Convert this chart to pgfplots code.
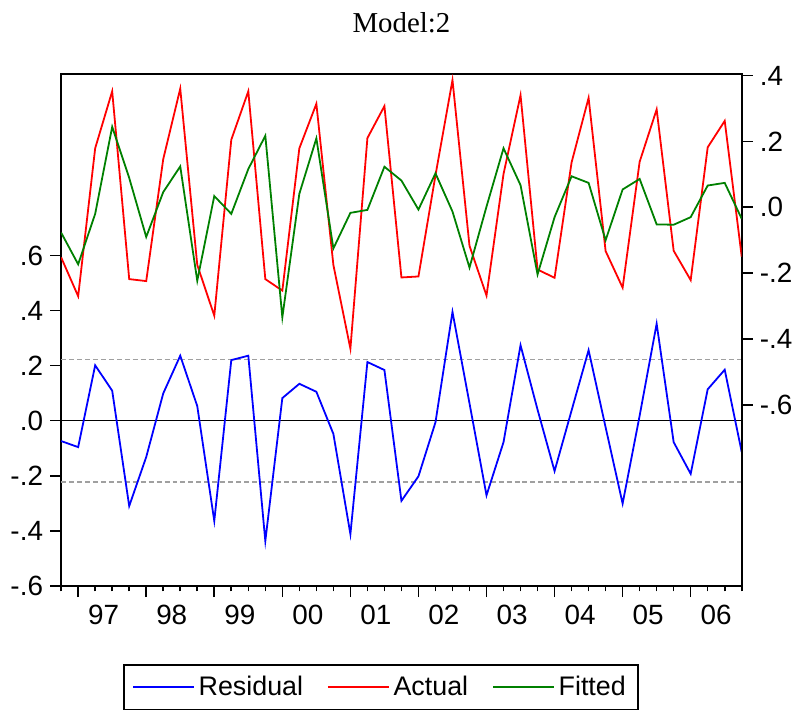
\documentclass[border=0pt]{standalone}
\usepackage{fontspec}
\setmainfont{Liberation Serif}
\newfontfamily\arial{Liberation Sans}
\usepackage{pgfplots}
\usepackage{pgfplotstable}
\pgfplotsset{compat=1.18}
\definecolor{EvBlue}{RGB}{0,0,255}
\definecolor{EvRed}{RGB}{255,0,0}
\definecolor{EvGreen}{RGB}{0,128,0}
\definecolor{EvGrey}{RGB}{160,160,160}

% quarterly, 1996Q4 .. 2006Q4 (index 0..40)
\pgfplotstableread{
i  actual  fitted  resid
0  -0.152  -0.077  -0.074
1  -0.270  -0.173  -0.096
2   0.179  -0.020   0.201
3   0.352   0.244   0.109
4  -0.218   0.089  -0.310
5  -0.224  -0.090  -0.132
6   0.146   0.046   0.099
7   0.360   0.124   0.236
8  -0.175  -0.223   0.053
9  -0.329   0.034  -0.364
10  0.205  -0.020   0.220
11  0.352   0.116   0.236
12 -0.218   0.217  -0.437
13 -0.253  -0.334   0.082
14  0.179   0.041   0.134
15  0.314   0.209   0.105
16 -0.175  -0.125  -0.048
17 -0.429  -0.017  -0.412
18  0.210  -0.008   0.213
19  0.307   0.123   0.184
20 -0.213   0.081  -0.291
21 -0.210  -0.007  -0.202
22  0.097   0.103  -0.006
23  0.386  -0.013   0.395
24 -0.117  -0.183   0.063
25 -0.268   0.002  -0.271
26  0.101   0.179  -0.078
27  0.340   0.067   0.274
28 -0.189  -0.204   0.040
29 -0.214  -0.030  -0.183
30  0.136   0.094   0.037
31  0.332   0.074   0.256
32 -0.133  -0.100  -0.024
33 -0.244   0.054  -0.301
34  0.138   0.086   0.018
35  0.297  -0.052   0.352
36 -0.132  -0.053  -0.078
37 -0.221  -0.030  -0.193
38  0.182   0.066   0.114
39  0.262   0.074   0.185
40 -0.150  -0.035  -0.114
}\evdata

\begin{document}
\begin{tikzpicture}
\pgfplotsset{every axis/.append style={
  scale only axis, width=342.25pt, height=257.3pt,
  xmin=0, xmax=40, axis line style={line width=1pt},
  tick align=outside, major tick length=5.6pt, minor tick length=2.7pt,
  tick style={black, line width=0.8pt},
  ticklabel style={font=\arial\fontsize{14}{16}\selectfont},
}}
\begin{axis}[name=ax,
  ymin=-0.6, ymax=1.258,
  xtick pos=bottom, ytick pos=left,
  xtick={1,5,9,13,17,21,25,29,33,37}, xticklabels={},
  minor xtick={0,...,40},
  extra x ticks={2.5,6.5,10.5,14.5,18.5,22.5,26.5,30.5,34.5,38.5},
  extra x tick labels={97,98,99,00,01,02,03,04,05,06},
  extra x tick style={major tick length=0pt, tick style={draw=none},
    xticklabel style={yshift=-6pt}},
  ytick={-0.6,-0.4,-0.2,0,0.2,0.4,0.6},
  yticklabels={-.6,-.4,-.2,.0,.2,.4,.6},
]
\addplot[EvGrey, line width=0.7pt, dash pattern=on 2.5pt off 1.5pt] coordinates {(0,0.222) (40,0.222)};
\addplot[EvGrey, line width=0.7pt, dash pattern=on 2.5pt off 1.5pt] coordinates {(0,-0.222) (40,-0.222)};
\addplot[black, line width=0.5pt] coordinates {(0,0) (40,0)};
\addplot[EvBlue, line width=0.9pt] table[x=i, y=resid] {\evdata};
\end{axis}
\begin{axis}[
  ymin=-1.149, ymax=0.4036,
  axis y line*=right, axis x line=none,
  ytick={-0.6,-0.4,-0.2,0,0.2,0.4},
  yticklabels={-.6,-.4,-.2,.0,.2,.4},
  legend columns=3,
  legend image code/.code={\draw[#1, line width=1pt] (0pt,0pt) -- (30.5pt,0pt);},
  legend style={at={(0.0913,-0.153)}, anchor=north west,
    draw=black, line width=0.8pt,
    font=\arial\fontsize{13.5}{16}\selectfont,
    inner xsep=4pt, inner ysep=3.5pt,
    /tikz/every even column/.append style={column sep=10pt}},
]
\addlegendimage{EvBlue}
\addlegendentry{Residual}
\addplot[EvRed, line width=0.9pt] table[x=i, y=actual] {\evdata};
\addlegendentry{Actual}
\addplot[EvGreen, line width=0.9pt] table[x=i, y=fitted] {\evdata};
\addlegendentry{Fitted}
\end{axis}
\node[anchor=base, font=\fontsize{14.5}{17}\selectfont] at ([yshift=21pt]ax.north) {Model:2};
\path ([shift={(-30.75pt,-60.35pt)}]ax.south west) rectangle ([shift={(368.75pt,294.65pt)}]ax.south west);
\end{tikzpicture}
\end{document}
